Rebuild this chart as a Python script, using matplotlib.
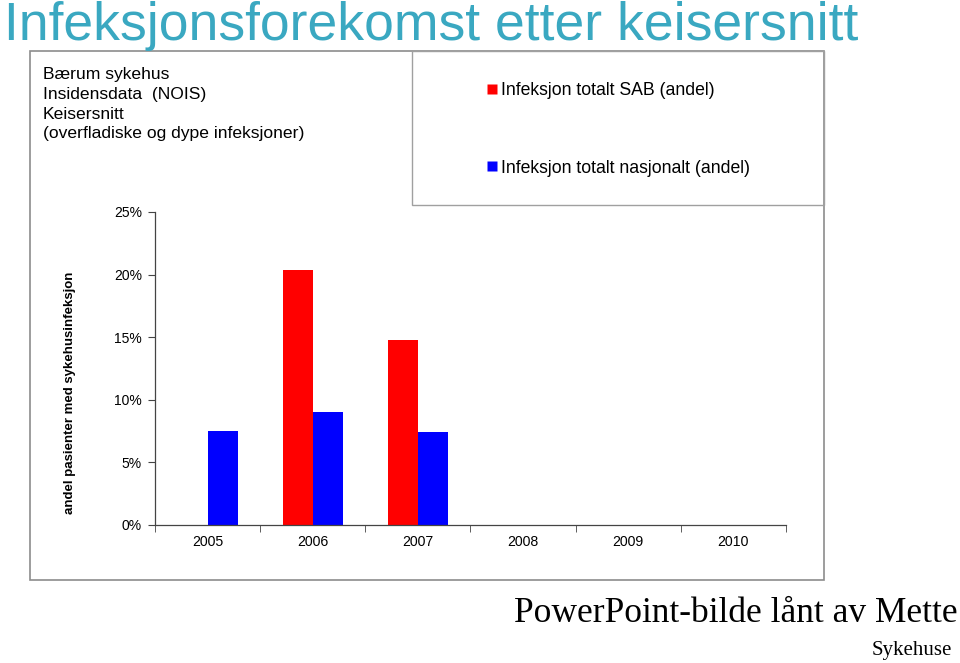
import matplotlib.pyplot as plt
import matplotlib.ticker as mtick
from matplotlib.patches import Rectangle
from matplotlib.lines import Line2D
import numpy as np

years = ['2005', '2006', '2007', '2008', '2009', '2010']
sab_values = [np.nan, 0.204, 0.148, np.nan, np.nan, np.nan]        # Infeksjon totalt SAB
national_values = [0.075, 0.090, 0.074, np.nan, np.nan, np.nan]    # Infeksjon totalt nasjonalt

W, H = 960, 663
fig = plt.figure(figsize=(W / 100, H / 100), dpi=100)
plt.rcParams['font.family'] = ['Liberation Sans', 'DejaVu Sans']


def fx(px):
    return px / W


def fy(py):
    return 1 - py / H


# outer chart frame and legend box
fig.patches.append(Rectangle((fx(30), fy(580)), fx(824) - fx(30), fy(51) - fy(580),
                             transform=fig.transFigure, fill=False, edgecolor='#8c8c8c', lw=1.2))
fig.patches.append(Rectangle((fx(412), fy(205)), fx(824) - fx(412), fy(51) - fy(205),
                             transform=fig.transFigure, fill=False, edgecolor='#a0a0a0', lw=1.0))

# title
fig.text(fx(4), fy(40), 'Infeksjonsforekomst etter keisersnitt', color='#3aa8c1',
         fontsize=38.5, va='baseline', ha='left')

# info text top-left
fig.text(fx(43), fy(67), 'Bærum sykehus\nInsidensdata  (NOIS)\nKeisersnitt\n(overfladiske og dype infeksjoner)',
         fontsize=12.6, va='top', ha='left', linespacing=1.4)

# axes
ax = fig.add_axes([fx(155), fy(525), fx(786) - fx(155), fy(212) - fy(525)])
x = np.arange(len(years))
w = 0.285
ax.bar(x - w / 2, sab_values, width=w, color='#ff0000', label='Infeksjon totalt SAB (andel)')
ax.bar(x + w / 2, national_values, width=w, color='#0000ff', label='Infeksjon totalt nasjonalt (andel)')

ax.set_xlim(-0.5, len(years) - 0.5)
ax.set_ylim(0, 0.25)
ax.yaxis.set_major_locator(mtick.MultipleLocator(0.05))
ax.yaxis.set_major_formatter(mtick.PercentFormatter(xmax=1.0, decimals=0))
ax.set_xticks(x)
ax.set_xticklabels(years)
ax.set_xticks(np.arange(-0.5, len(years)), minor=True)
ax.tick_params(axis='x', which='major', length=0, pad=7, labelsize=10.2)
ax.tick_params(axis='x', which='minor', length=5, direction='out', color='#444444')
ax.tick_params(axis='y', length=5, direction='out', pad=4.5, labelsize=10, color='#444444')
for s in ['top', 'right']:
    ax.spines[s].set_visible(False)
for s in ['left', 'bottom']:
    ax.spines[s].set_color('#444444')
    ax.spines[s].set_linewidth(0.9)

fig.text(fx(70), fy(393), 'andel pasienter med sykehusinfeksjon', rotation=90,
         fontsize=9.5, fontweight='bold', va='center', ha='center')

# legend
handles = [Line2D([], [], marker='s', color='none', markerfacecolor='#ff0000', markeredgecolor='none', markersize=7),
           Line2D([], [], marker='s', color='none', markerfacecolor='#0000ff', markeredgecolor='none', markersize=7)]
fig.legend(handles, ['Infeksjon totalt SAB (andel)', 'Infeksjon totalt nasjonalt (andel)'],
           loc='upper left', bbox_to_anchor=(fx(478), fy(73)), frameon=False, fontsize=12.7,
           handlelength=0.55, handletextpad=0.25, labelspacing=3.45, borderpad=0)

# footer text
fig.text(fx(958), fy(613), 'PowerPoint-bilde lånt av Mette', family='Liberation Serif',
         fontsize=25.5, ha='right', va='center')
fig.text(fx(952), fy(651), 'Sykehuse', family='Liberation Serif', fontsize=15, ha='right', va='center')

fig.savefig('out.png', dpi=100)
